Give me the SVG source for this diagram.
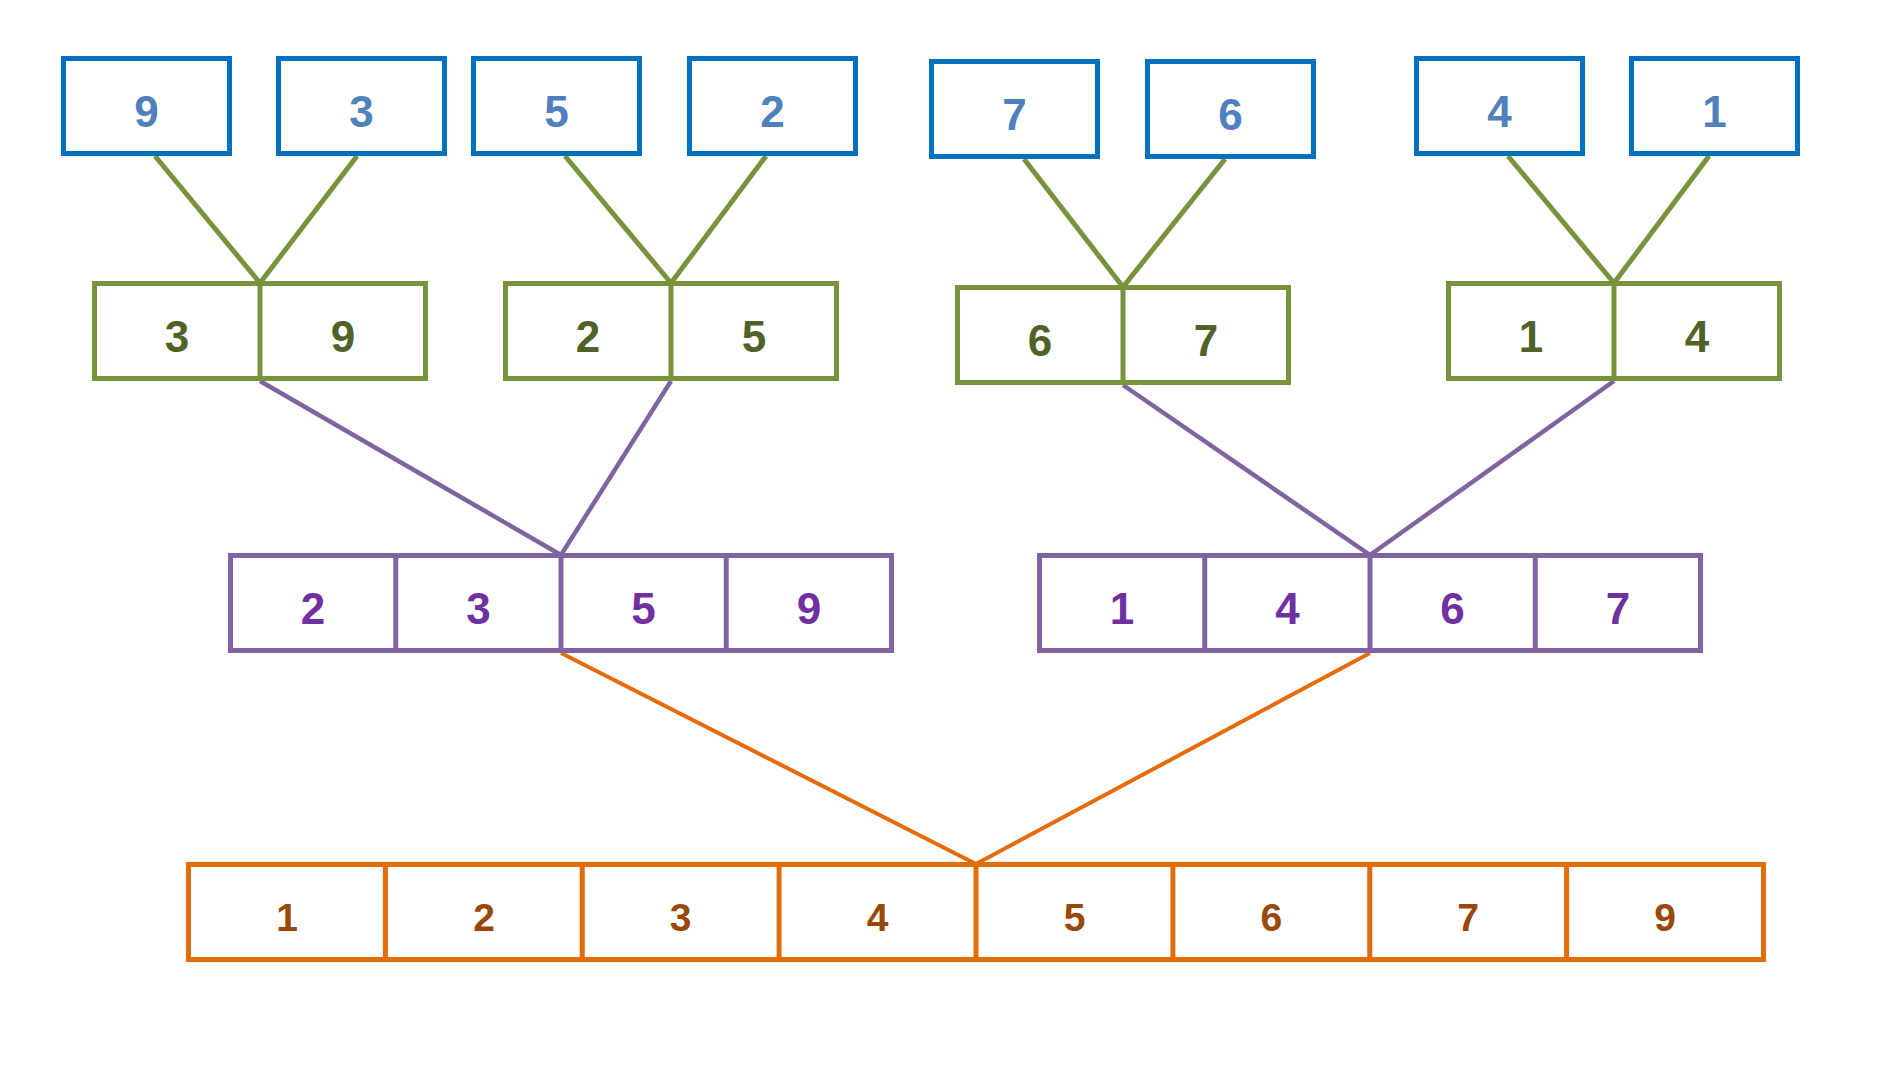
<svg xmlns="http://www.w3.org/2000/svg" width="1901" height="1074" viewBox="0 0 1901 1074">
<style>
rect, line.div { fill: none; stroke-width: 5; }
.b rect { stroke: #0070C0; }
.g rect, .g line { stroke: #77933C; }
.p rect, .p line { stroke: #8064A2; }
.o rect, .o line { stroke: #E46C0A; }
text { font-family: "Liberation Sans", Arial, sans-serif; font-weight: bold; font-size: 44px; text-anchor: middle; }
.b text { fill: #4F81BD; }
.g text { fill: #4F6228; }
.p text { fill: #7030A0; }
.o text { fill: #984807; font-size: 39px; }
#connectors line { stroke-linecap: butt; }
.cg { stroke: #77933C; stroke-width: 5; }
.cp { stroke: #8064A2; stroke-width: 4.5; }
.co { stroke: #E46C0A; stroke-width: 4; }
</style>
<rect x="0" y="0" width="1901" height="1074" fill="#ffffff" style="stroke:none"/>
<g id="connectors">
<line class="cg" x1="155" y1="156" x2="260" y2="283"/>
<line class="cg" x1="357" y1="156" x2="260" y2="283"/>
<line class="cg" x1="565" y1="156" x2="671" y2="283"/>
<line class="cg" x1="766" y1="156" x2="671" y2="283"/>
<line class="cg" x1="1024" y1="159" x2="1123" y2="287"/>
<line class="cg" x1="1225" y1="159" x2="1123" y2="287"/>
<line class="cg" x1="1508" y1="156" x2="1614" y2="283"/>
<line class="cg" x1="1709" y1="156" x2="1614" y2="283"/>
<line class="cp" x1="260" y1="381" x2="561" y2="555"/>
<line class="cp" x1="671" y1="381" x2="561" y2="555"/>
<line class="cp" x1="1123" y1="385" x2="1370" y2="555"/>
<line class="cp" x1="1614" y1="381" x2="1370" y2="555"/>
<line class="co" x1="561" y1="653" x2="976" y2="864"/>
<line class="co" x1="1370" y1="653" x2="976" y2="864"/>
</g>
<g id="b1" class="b"><rect x="63.5" y="58.5" width="166" height="95"/><text x="146.5" y="127">9</text></g>
<g id="b2" class="b"><rect x="278.5" y="58.5" width="166" height="95"/><text x="361.5" y="127">3</text></g>
<g id="b3" class="b"><rect x="473.5" y="58.5" width="166" height="95"/><text x="556.5" y="127">5</text></g>
<g id="b4" class="b"><rect x="689.5" y="58.5" width="166" height="95"/><text x="772.5" y="127">2</text></g>
<g id="b5" class="b"><rect x="931.5" y="61.5" width="166" height="95"/><text x="1014.5" y="130">7</text></g>
<g id="b6" class="b"><rect x="1147.5" y="61.5" width="166" height="95"/><text x="1230.5" y="130">6</text></g>
<g id="b7" class="b"><rect x="1416.5" y="58.5" width="166" height="95"/><text x="1499.5" y="127">4</text></g>
<g id="b8" class="b"><rect x="1631.5" y="58.5" width="166" height="95"/><text x="1714.5" y="127">1</text></g>
<g id="g1" class="g"><rect x="94.5" y="283.5" width="331" height="95"/><line class="div" x1="260" y1="283.5" x2="260" y2="378.5"/><text x="177" y="352">3</text><text x="343" y="352">9</text></g>
<g id="g2" class="g"><rect x="505.5" y="283.5" width="331" height="95"/><line class="div" x1="671" y1="283.5" x2="671" y2="378.5"/><text x="588" y="352">2</text><text x="754" y="352">5</text></g>
<g id="g3" class="g"><rect x="957.5" y="287.5" width="331" height="95"/><line class="div" x1="1123" y1="287.5" x2="1123" y2="382.5"/><text x="1040" y="356">6</text><text x="1206" y="356">7</text></g>
<g id="g4" class="g"><rect x="1448.5" y="283.5" width="331" height="95"/><line class="div" x1="1614" y1="283.5" x2="1614" y2="378.5"/><text x="1531" y="352">1</text><text x="1697" y="352">4</text></g>
<g id="p1" class="p"><rect x="230.5" y="555.5" width="661" height="95"/>
<line class="div" x1="395.75" y1="555.5" x2="395.75" y2="650.5"/><line class="div" x1="561" y1="555.5" x2="561" y2="650.5"/><line class="div" x1="726.25" y1="555.5" x2="726.25" y2="650.5"/>
<text x="313" y="624">2</text><text x="478.5" y="624">3</text><text x="643.5" y="624">5</text><text x="809" y="624">9</text></g>
<g id="p2" class="p"><rect x="1039.5" y="555.5" width="661" height="95"/>
<line class="div" x1="1204.75" y1="555.5" x2="1204.75" y2="650.5"/><line class="div" x1="1370" y1="555.5" x2="1370" y2="650.5"/><line class="div" x1="1535.25" y1="555.5" x2="1535.25" y2="650.5"/>
<text x="1122" y="624">1</text><text x="1287.5" y="624">4</text><text x="1452.5" y="624">6</text><text x="1618" y="624">7</text></g>
<g id="o1" class="o"><rect x="188.5" y="864.5" width="1575" height="95"/>
<line class="div" x1="385.4" y1="864.5" x2="385.4" y2="959.5"/><line class="div" x1="582.25" y1="864.5" x2="582.25" y2="959.5"/><line class="div" x1="779.1" y1="864.5" x2="779.1" y2="959.5"/><line class="div" x1="976" y1="864.5" x2="976" y2="959.5"/><line class="div" x1="1172.9" y1="864.5" x2="1172.9" y2="959.5"/><line class="div" x1="1369.75" y1="864.5" x2="1369.75" y2="959.5"/><line class="div" x1="1566.6" y1="864.5" x2="1566.6" y2="959.5"/>
<text x="287" y="931">1</text><text x="484" y="931">2</text><text x="680.7" y="931">3</text><text x="877.5" y="931">4</text><text x="1074.5" y="931">5</text><text x="1271.3" y="931">6</text><text x="1468" y="931">7</text><text x="1665" y="931">9</text></g>
</svg>
